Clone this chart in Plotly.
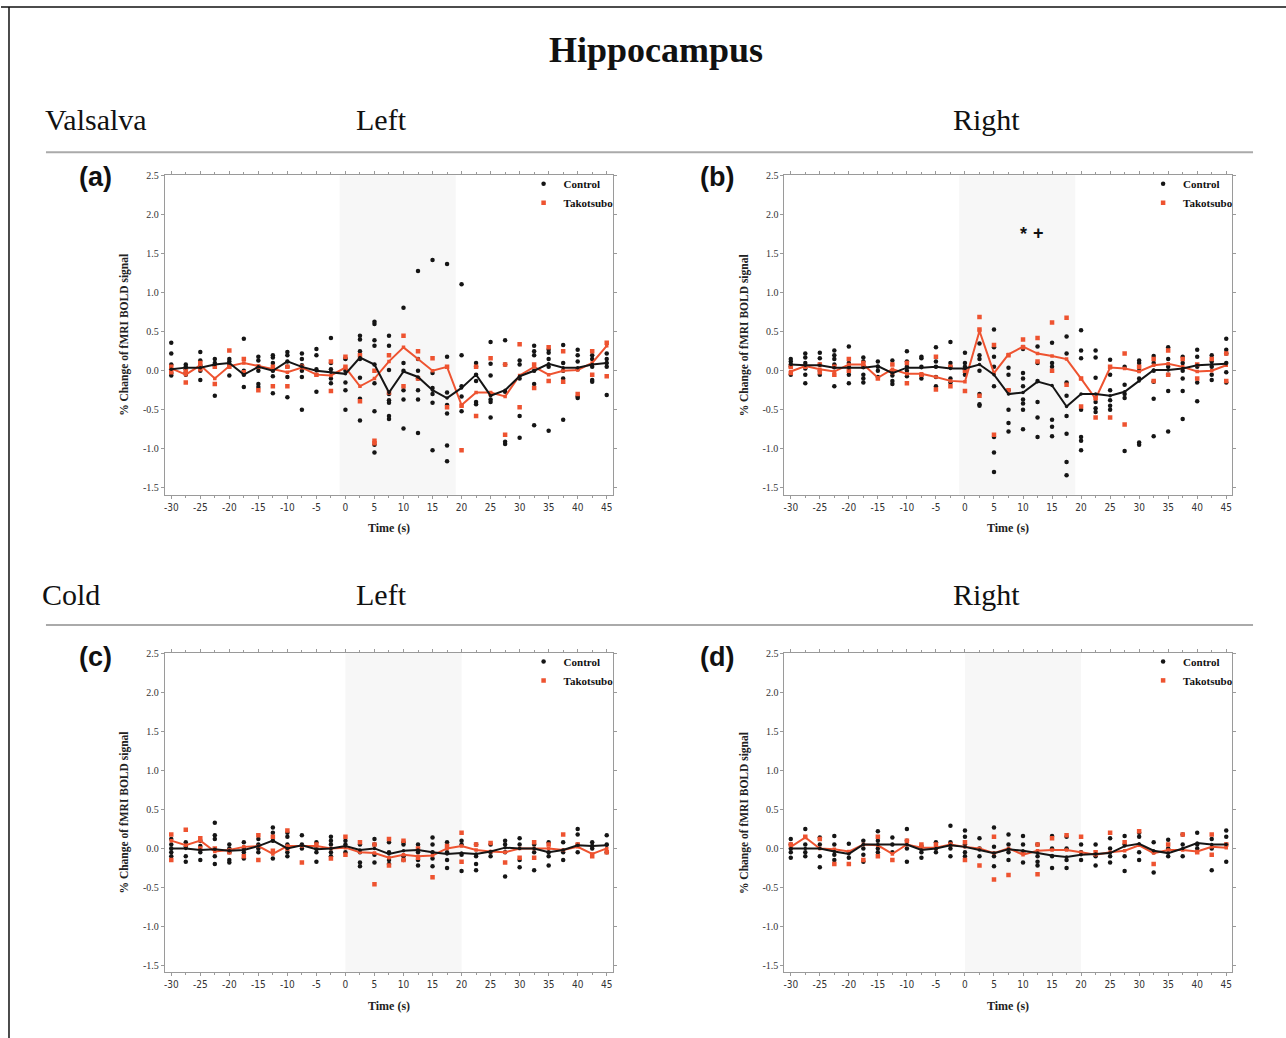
import plotly.graph_objects as go

W, H = 1286, 1038

time_s = [-30, -27.5, -25, -22.5, -20, -17.5, -15, -12.5, -10, -7.5, -5, -2.5, 0, 2.5, 5, 7.5,
          10, 12.5, 15, 17.5, 20, 22.5, 25, 27.5, 30, 32.5, 35, 37.5, 40, 42.5, 45]
x_ticks = [-30, -25, -20, -15, -10, -5, 0, 5, 10, 15, 20, 25, 30, 35, 40, 45]
y_ticks = [2.5, 2.0, 1.5, 1.0, 0.5, 0.0, -0.5, -1.0, -1.5]

# ---------------- Panel (a) Valsalva Left ----------------
ctrl_mean_a = [0.02, 0.04, 0.04, 0.08, 0.10, -0.05, 0.05, 0.00, 0.12, 0.05, 0.00, -0.02, -0.04, 0.17, 0.08, -0.28,
               -0.01, -0.08, -0.25, -0.35, -0.22, -0.05, -0.32, -0.25, -0.07, 0.00, 0.09, 0.04, 0.04, 0.08, 0.10]
tako_mean_a = [0.03, -0.05, 0.07, -0.10, 0.06, 0.10, 0.06, 0.02, -0.02, 0.04, -0.05, -0.06, 0.04, -0.20, -0.10, 0.12,
               0.30, 0.15, 0.00, 0.05, -0.44, -0.28, -0.28, -0.33, -0.06, 0.05, -0.05, 0.00, 0.01, 0.10, 0.32]
ctrl_pts_a = [[0.36, 0.22, 0.08, 0.02, -0.03, -0.06], [0.08, 0.05, 0.02, -0.02, -0.05], [0.24, 0.13, 0.07, 0.0, -0.12],
              [0.15, 0.10, 0.06, -0.32], [0.15, 0.12, 0.08, -0.06], [0.41, 0.0, -0.05, -0.21],
              [0.18, 0.13, 0.05, 0.0, -0.17, -0.21], [0.20, 0.17, 0.10, 0.0, -0.07, -0.29],
              [0.24, 0.20, 0.12, 0.05, -0.08, -0.34], [0.22, 0.15, 0.07, 0.0, -0.08, -0.50],
              [0.28, 0.20, 0.02, -0.27], [0.42, 0.10, 0.02, -0.10, -0.16], [0.16, 0.15, 0.0, -0.15, -0.25, -0.50],
              [0.45, 0.40, 0.25, 0.15, -0.09, -0.36, -0.64], [0.63, 0.60, 0.39, 0.32, 0.08, -0.16, -0.52, -0.95, -1.05],
              [0.45, 0.32, 0.01, -0.30, -0.38, -0.41, -0.58, -0.62], [0.81, 0.10, 0.0, -0.25, -0.37, -0.74],
              [1.28, 0.15, 0.0, -0.10, -0.25, -0.37, -0.80], [1.42, -0.03, -0.22, -0.30, -0.41, -1.02],
              [1.37, 0.18, -0.28, -0.44, -0.55, -0.96, -1.16], [1.11, 0.20, -0.20, -0.33, -0.52],
              [0.10, 0.05, -0.05, -0.13, -0.40, -0.43], [0.37, 0.09, -0.06, -0.37, -0.40, -0.60],
              [0.39, 0.08, -0.27, -0.91, -0.94], [0.13, 0.08, -0.10, -0.58, -0.86],
              [0.32, 0.25, 0.20, 0.0, -0.17, -0.70], [0.27, 0.23, 0.15, 0.05, -0.77], [0.33, 0.10, 0.0, -0.10, -0.63],
              [0.27, 0.20, 0.12, 0.02, -0.33, -0.35], [0.20, 0.15, 0.05, -0.12, -0.14], [0.22, 0.15, 0.10, 0.05, -0.31]]
tako_pts_a = [[0.05, -0.02], [-0.15, 0.0], [0.10, 0.02], [0.05, -0.17], [0.26, 0.05], [0.15, -0.02], [0.05, -0.25],
              [0.05, -0.20], [0.05, -0.20], [0.05], [-0.05], [0.12, -0.26], [0.18, 0.05], [0.20, -0.39],
              [-0.90, -0.93, 0.0], [0.20, -0.28], [0.45, -0.20], [0.25, -0.10], [0.16], [0.05, -0.47], [-0.45, -1.02],
              [0.05, -0.58], [0.16, -0.30], [0.08, -0.82], [0.34, -0.47], [0.08, -0.22], [0.30, -0.13],
              [0.25, -0.14], [-0.30], [0.25, -0.05], [0.36, -0.07]]

# ---------------- Panel (b) Valsalva Right ----------------
ctrl_mean_b = [0.08, 0.07, 0.07, 0.04, 0.04, 0.04, 0.06, -0.03, 0.04, 0.04, 0.05, 0.03, 0.03, 0.08, -0.05, -0.30,
               -0.28, -0.14, -0.19, -0.46, -0.30, -0.30, -0.32, -0.27, -0.13, 0.01, 0.01, 0.03, 0.07, 0.08, 0.09]
tako_mean_b = [-0.01, 0.06, 0.02, -0.01, 0.08, 0.08, -0.09, 0.02, -0.04, -0.04, -0.08, -0.13, -0.14, 0.51, -0.03, 0.21,
               0.31, 0.22, 0.19, 0.15, -0.10, -0.36, 0.04, 0.03, -0.01, 0.07, 0.09, 0.05, -0.01, 0.00, 0.07]
ctrl_pts_b = [[0.15, 0.12, 0.08, 0.05, -0.05], [0.22, 0.17, 0.10, 0.03, -0.05, -0.16], [0.23, 0.16, 0.08, 0.0, -0.05],
              [0.26, 0.20, 0.15, 0.08, -0.20], [0.31, 0.10, 0.05, -0.05, -0.16], [0.17, 0.12, 0.05, -0.05, -0.10, -0.15],
              [0.12, 0.05, 0.0, -0.08], [0.13, 0.0, -0.06, -0.13, -0.17], [0.25, 0.12, 0.05, 0.0, -0.07],
              [0.18, 0.16, 0.05, -0.06, -0.10], [0.30, 0.12, 0.05, -0.08, -0.20], [0.37, 0.10, 0.05, -0.10, -0.15],
              [0.23, 0.10, 0.05, 0.02, -0.05], [0.35, 0.20, 0.15, 0.0, -0.30, -0.43, -0.45],
              [0.53, 0.30, 0.18, 0.05, -0.20, -0.85, -1.05, -1.30], [0.04, -0.05, -0.25, -0.50, -0.67, -0.78],
              [0.28, -0.03, -0.10, -0.20, -0.37, -0.42, -0.50, -0.75], [0.31, 0.10, -0.13, -0.40, -0.60, -0.85],
              [0.36, 0.10, 0.05, -0.63, -0.72, -0.84], [0.44, 0.22, -0.15, -0.32, -0.58, -0.81, -1.17, -1.34],
              [0.52, 0.26, 0.16, -0.50, -0.85, -0.90, -1.02], [0.26, 0.17, -0.09, -0.40, -0.48, -0.53],
              [0.14, -0.05, -0.25, -0.38, -0.45, -0.50], [0.05, -0.18, -0.30, -0.35, -1.03],
              [0.13, 0.10, 0.0, -0.10, -0.92, -0.95], [0.19, 0.10, 0.0, -0.14, -0.36, -0.84],
              [0.30, 0.15, 0.05, -0.05, -0.26, -0.78], [0.18, 0.10, 0.0, -0.10, -0.26, -0.62],
              [0.27, 0.18, 0.05, -0.15, -0.39], [0.20, 0.12, 0.05, -0.05, -0.12], [0.41, 0.27, 0.22, 0.10, -0.02, -0.15]]
tako_pts_b = [[0.05, -0.03], [0.05], [0.08, -0.02], [0.05, -0.05], [0.15, 0.0], [0.10, 0.05], [-0.10], [0.08, -0.02],
              [0.10, -0.16], [-0.05], [0.18, -0.24], [-0.20, 0.05], [-0.26, 0.0], [0.69, 0.53, -0.32], [0.33, -0.82],
              [0.20, -0.25], [0.40, 0.30], [0.42, 0.12], [0.62, 0.0], [0.68, -0.18], [-0.10, -0.46], [-0.35, -0.60],
              [0.05, -0.60], [0.22, -0.69], [0.05], [0.15, -0.13], [0.26, -0.05], [0.15], [0.08, -0.10], [0.15],
              [0.22, -0.13]]

# ---------------- Panel (c) Cold Left ----------------
ctrl_mean_c = [0.00, 0.00, -0.02, -0.01, -0.03, -0.02, 0.03, 0.10, 0.00, 0.04, -0.01, 0.00, 0.03, -0.02, 0.00, -0.07,
               -0.03, -0.02, -0.05, -0.07, -0.06, -0.07, -0.04, 0.01, 0.00, 0.00, -0.05, -0.02, 0.04, 0.03, 0.04]
tako_mean_c = [0.10, 0.04, 0.10, -0.04, -0.02, 0.02, 0.03, -0.07, 0.03, 0.03, 0.03, 0.00, 0.01, -0.05, -0.06, -0.12,
               -0.08, -0.10, -0.09, 0.00, 0.03, -0.02, -0.04, -0.05, 0.00, 0.00, 0.00, -0.02, 0.02, -0.07, 0.00]
ctrl_pts_c = [[0.12, 0.05, 0.0, -0.05, -0.10], [0.08, 0.02, -0.10, -0.17], [0.10, 0.03, -0.05, -0.15],
              [0.33, 0.17, 0.12, -0.10, -0.20], [0.05, 0.0, -0.05, -0.15, -0.18], [0.08, 0.0, -0.05, -0.13],
              [0.12, 0.05, 0.0, -0.05], [0.27, 0.20, 0.10, -0.13], [0.20, 0.15, 0.05, -0.05, -0.10], [0.17, 0.05, 0.0],
              [0.08, 0.0, -0.05, -0.17], [0.15, 0.10, 0.05, -0.05, -0.10], [0.10, 0.05, -0.05],
              [0.05, -0.05, -0.18, -0.23], [0.12, 0.05, -0.08, -0.18], [0.08, -0.05, -0.15, -0.20],
              [0.08, 0.05, -0.10, -0.15], [0.05, -0.05, -0.15, -0.22], [0.14, 0.05, -0.05, -0.13, -0.23],
              [0.08, -0.05, -0.15, -0.25], [0.10, 0.05, -0.08, -0.29], [0.05, -0.10, -0.20, -0.28],
              [0.05, -0.05, -0.10], [0.10, 0.05, -0.05, -0.36], [0.13, 0.05, -0.15, -0.24], [0.05, -0.05, -0.28],
              [0.08, -0.05, -0.10, -0.22], [0.08, -0.05, -0.15], [0.25, 0.18, 0.05, -0.05], [0.08, 0.03, 0.0],
              [0.17, 0.05, -0.05]]
tako_pts_c = [[0.18, -0.15], [0.24], [0.13, 0.0], [0.0], [-0.05], [-0.10], [0.17, -0.15], [0.15, -0.03], [0.23, 0.0],
              [-0.18], [0.05], [-0.13], [0.15, -0.08], [0.08], [-0.46, 0.05], [0.12, -0.22], [0.10, -0.15],
              [0.0, -0.12], [-0.37], [0.03], [0.20, -0.17], [0.05], [0.07], [-0.18], [-0.12], [0.08, -0.12], [0.05],
              [0.18], [0.05], [-0.10], [-0.05]]

# ---------------- Panel (d) Cold Right ----------------
ctrl_mean_d = [0.00, 0.00, 0.00, -0.04, -0.07, 0.05, 0.05, 0.05, 0.05, -0.02, 0.00, 0.04, 0.02, -0.02, -0.06, -0.01,
               -0.03, -0.06, -0.09, -0.11, -0.08, -0.07, -0.06, 0.03, 0.06, -0.03, -0.06, 0.00, 0.07, 0.05, 0.05]
tako_mean_d = [0.02, 0.14, 0.00, -0.01, -0.04, 0.05, 0.04, -0.07, 0.05, 0.01, 0.01, 0.05, 0.02, 0.00, -0.06, 0.00,
               -0.08, -0.03, -0.02, -0.02, -0.05, -0.08, -0.05, -0.03, 0.04, -0.06, -0.02, -0.02, -0.04, 0.02, 0.01]
ctrl_pts_d = [[0.12, 0.05, 0.0, -0.05, -0.12], [0.25, 0.05, -0.05, -0.10], [0.14, 0.05, -0.10, -0.24],
              [0.16, 0.05, -0.08, -0.15], [0.06, -0.05, -0.12], [0.10, 0.0, -0.08, -0.17], [0.22, 0.10, 0.0, -0.05],
              [0.14, 0.05, -0.05], [0.25, 0.10, 0.0, -0.17], [0.03, -0.05, -0.12], [0.08, 0.0, -0.05],
              [0.29, 0.08, 0.0, -0.10], [0.23, 0.15, 0.05, -0.05, -0.10], [0.13, 0.0, -0.10],
              [0.27, 0.02, -0.10, -0.23], [0.18, 0.05, -0.05, -0.15], [0.16, 0.05, -0.05, -0.18],
              [0.05, -0.10, -0.17, -0.22], [0.16, 0.0, -0.10, -0.25], [0.15, 0.0, -0.15, -0.25], [0.05, -0.05, -0.15],
              [0.05, -0.10, -0.22], [0.13, 0.0, -0.10, -0.18], [0.16, 0.05, -0.10, -0.29], [0.20, 0.15, -0.05, -0.15],
              [0.08, -0.05, -0.31], [0.11, 0.0, -0.10], [0.18, 0.05, -0.10], [0.20, 0.05, 0.0], [0.12, 0.0, -0.28],
              [0.23, 0.15, 0.05, -0.17]]
tako_pts_d = [[0.05], [0.15], [0.12], [-0.20], [-0.20], [-0.15], [0.15, -0.10], [-0.15], [0.10], [0.05], [0.05],
              [0.05], [-0.15, 0.08], [-0.22], [0.15, -0.40], [-0.34], [-0.05], [0.05, -0.33], [0.13], [0.17], [0.15],
              [-0.05], [0.20], [0.08], [0.22], [-0.20], [0.05], [0.18], [-0.05], [0.18, -0.08], [0.05]]

# stimulus (shaded) windows, seconds
shade_a = (-1, 19)
shade_b = (-1, 19)
shade_c = (0, 20)
shade_d = (0, 20)

RED = "#EE5330"
BLK = "#151515"
SERIF = "Liberation Serif"

panels = [
    dict(ax="", cm=ctrl_mean_a, tm=tako_mean_a, cp=ctrl_pts_a, tp=tako_pts_a, shade=shade_a,
         px=(164, 612), py=(176, 497), legend="legend"),
    dict(ax="2", cm=ctrl_mean_b, tm=tako_mean_b, cp=ctrl_pts_b, tp=tako_pts_b, shade=shade_b,
         px=(784, 1232), py=(176, 497), legend="legend2"),
    dict(ax="3", cm=ctrl_mean_c, tm=tako_mean_c, cp=ctrl_pts_c, tp=tako_pts_c, shade=shade_c,
         px=(164, 612), py=(656, 977), legend="legend3"),
    dict(ax="4", cm=ctrl_mean_d, tm=tako_mean_d, cp=ctrl_pts_d, tp=tako_pts_d, shade=shade_d,
         px=(784, 1232), py=(656, 977), legend="legend4"),
]

OFFY = 5  # page offset compensation


def flatten(pts):
    xs, ys = [], []
    for t, vals in zip(time_s, pts):
        for v in vals:
            xs.append(t)
            ys.append(v)
    return xs, ys


def PX(px):
    return px / W


def PY(py):
    return 1 - (py - OFFY) / H


fig = go.Figure()
layout = dict(width=W, height=H, margin=dict(l=0, r=0, t=0, b=0),
              paper_bgcolor="white", plot_bgcolor="white", showlegend=True)
shapes = []
annotations = []

for p in panels:
    xa = "x" + p["ax"]
    ya = "y" + p["ax"]
    cx, cy = flatten(p["cp"])
    tx, ty = flatten(p["tp"])
    fig.add_trace(go.Scatter(x=cx, y=cy, mode="markers", xaxis=xa, yaxis=ya, name="<b>Control</b>",
                             legend=p["legend"],
                             marker=dict(symbol="circle", size=4.5, color=BLK)))
    fig.add_trace(go.Scatter(x=tx, y=ty, mode="markers", xaxis=xa, yaxis=ya, name="<b>Takotsubo</b>",
                             legend=p["legend"],
                             marker=dict(symbol="square", size=4.5, color=RED)))
    fig.add_trace(go.Scatter(x=time_s, y=p["tm"], mode="lines+markers", xaxis=xa, yaxis=ya,
                             showlegend=False, line=dict(color=RED, width=2),
                             marker=dict(symbol="square", size=3.5, color=RED)))
    fig.add_trace(go.Scatter(x=time_s, y=p["cm"], mode="lines+markers", xaxis=xa, yaxis=ya,
                             showlegend=False, line=dict(color=BLK, width=2),
                             marker=dict(symbol="circle", size=3.5, color=BLK)))

    x0, x1 = p["px"]
    y0, y1 = p["py"]
    dom_x = [PX(x0), PX(x1)]
    dom_y = [PY(y1), PY(y0)]
    axis_common = dict(showgrid=False, zeroline=False, showline=True, linecolor="#9a9a9a", linewidth=1,
                       mirror="ticks", ticks="outside", ticklen=3, tickcolor="#9a9a9a", tickwidth=1)
    xkey = "xaxis" + p["ax"]
    ykey = "yaxis" + p["ax"]
    layout[xkey] = dict(domain=dom_x, anchor=ya, range=[-31.1, 46], tickmode="array", tickvals=x_ticks,
                        ticktext=[str(v) for v in x_ticks],
                        tickfont=dict(family="DejaVu Sans Condensed, DejaVu Sans", size=10, color="#333"),
                        minor=dict(ticks="outside", dtick=2.5, tick0=-30, ticklen=2, tickcolor="#9a9a9a"),
                        **axis_common)
    layout[ykey] = dict(domain=dom_y, anchor=xa, range=[-1.59, 2.51], tickmode="array", tickvals=y_ticks,
                        ticktext=["%.1f" % v for v in y_ticks],
                        tickfont=dict(family=SERIF, size=10, color="#333"), **axis_common)
    shapes.append(dict(type="rect", xref=xa, yref=ya + " domain", x0=p["shade"][0], x1=p["shade"][1],
                       y0=0, y1=1, fillcolor="#f7f7f7", line=dict(width=0), layer="below"))
    # axis titles
    annotations.append(dict(text="<b>Time (s)</b>", x=PX((x0 + x1) / 2), y=PY(y1 + 34),
                            xref="paper", yref="paper", xanchor="center", yanchor="middle", showarrow=False,
                            font=dict(family=SERIF, size=12, color="#222")))
    annotations.append(dict(text="<b>% Change of fMRI BOLD signal</b>", x=PX(x0 - 40),
                            y=PY((y0 + y1) / 2), xref="paper", yref="paper", xanchor="center",
                            yanchor="middle", showarrow=False,
                            textangle=-90, font=dict(family=SERIF, size=11.5, color="#222")))
    layout[p["legend"]] = dict(x=PX(x1 - 89), y=PY(y0 - 6), xanchor="left", yanchor="top",
                               bgcolor="rgba(0,0,0,0)", borderwidth=0, tracegroupgap=0,
                               font=dict(family=SERIF, size=11, color="#111"), itemwidth=30)

# significance markers in (b)
annotations.append(dict(text="<b>*</b>", x=10, y=1.75, xref="x2", yref="y2", showarrow=False,
                        font=dict(family="Liberation Sans", size=18, color="#111")))
annotations.append(dict(text="<b>+</b>", x=12.7, y=1.77, xref="x2", yref="y2", showarrow=False,
                        font=dict(family="Liberation Sans", size=18, color="#111")))

# Headings
annotations.append(dict(text="<b>Hippocampus</b>", x=PX(656), y=PY(50), xref="paper", yref="paper",
                        xanchor="center", yanchor="middle",
                        showarrow=False, font=dict(family=SERIF, size=36, color="#111")))
for txt, px, py, anc in [("Valsalva", 42, 120, "left"), ("Left", 381, 120, "center"), ("Right", 986, 120, "center"),
                         ("Cold", 39, 597, "left"), ("Left", 381, 597, "center"), ("Right", 986, 597, "center")]:
    annotations.append(dict(text=txt, x=PX(px), y=PY(py), xref="paper", yref="paper", xanchor=anc,
                            yanchor="middle",
                            showarrow=False, font=dict(family=SERIF, size=30, color="#111")))
for txt, px, py in [("(a)", 95, 178), ("(b)", 717, 178), ("(c)", 95, 660), ("(d)", 717, 660)]:
    annotations.append(dict(text="<b>%s</b>" % txt, x=PX(px), y=PY(py), xref="paper", yref="paper",
                            xanchor="center", yanchor="middle",
                            showarrow=False, font=dict(family="Liberation Sans", size=27, color="#111")))

# separator lines and frame
for ly in (153, 628):
    shapes.append(dict(type="line", xref="paper", yref="paper", x0=PX(45), x1=PX(1253), y0=PY(ly),
                       y1=PY(ly), line=dict(color="#aaaaaa", width=2)))
shapes.append(dict(type="line", xref="paper", yref="paper", x0=0, x1=1, y0=PY(7), y1=PY(7),
                   line=dict(color="#111", width=1.5)))
shapes.append(dict(type="line", xref="paper", yref="paper", x0=PX(8), x1=PX(8), y0=0, y1=PY(7),
                   line=dict(color="#111", width=1.5)))

layout["shapes"] = shapes
layout["annotations"] = annotations
fig.update_layout(**layout)
fig.write_html("out.html", config={"displayModeBar": False},
               post_script="document.body.style.margin='0';document.body.style.overflow='hidden';")
